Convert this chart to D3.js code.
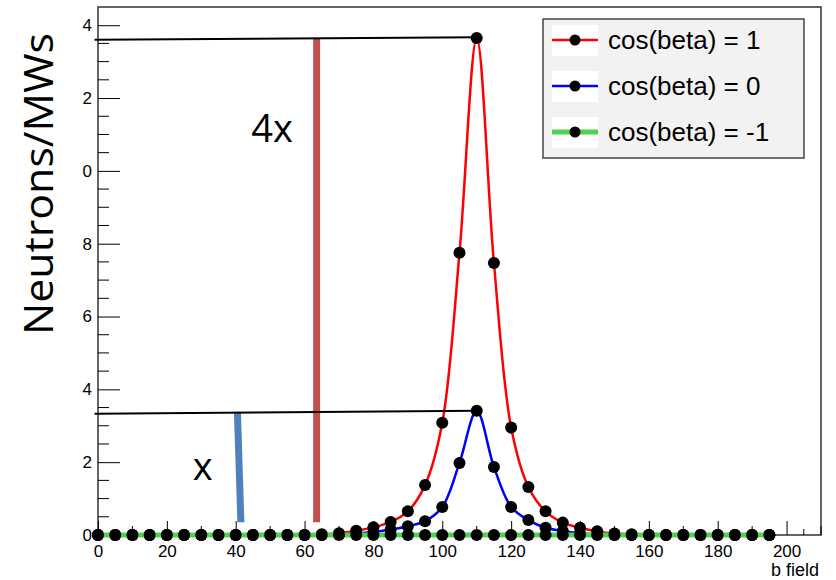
<!DOCTYPE html>
<html>
<head>
<meta charset="utf-8">
<script src="https://cdn.jsdelivr.net/npm/d3@7"></script>
<style>
  body { margin: 0; background: #fff; }
  svg { display: block; }
</style>
</head>
<body>
<div id="chart"></div>
<script>
// data
const bField = d3.range(0, 200, 5)  // 0,5,...,195
const redVals = [0,0,0,0,0,0,0,0,0,0,0,0,0,0.02,0.05,0.12,0.21,0.36,0.65,1.37,3.08,7.75,13.65,7.47,2.95,1.32,0.65,0.34,0.2,0.1,0.04,0.02,0,0,0,0,0,0,0,0]
const blueVals = [0,0,0,0,0,0,0,0,0,0,0,0,0,0,0.02,0.04,0.08,0.15,0.24,0.38,0.77,1.98,3.41,1.87,0.77,0.41,0.2,0.11,0.05,0.02,0,0,0,0,0,0,0,0,0,0]
const greenVals = bField.map(() => 0)

const seriesNames = ['cos(beta) = 1', 'cos(beta) = 0', 'cos(beta) = -1']
const seriesColors = ['#ff0000', '#0000ff', '#4fd34f']

const xTicks = [0, 20, 40, 60, 80, 100, 120, 140, 160, 180, 200]
const yTicks = [0, 2, 4, 6, 8, 10, 12, 14]
const yTickLabels = ['0', '2', '4', '6', '8', '0', '2', '4'] // 左邊被裁掉的樣子

// 標註 (data units)
const refLines = [
  { x1: -1, y1: 13.6, x2: 110, y2: 13.67 },
  { x1: -1, y1: 3.33, x2: 110, y2: 3.41 }
]
const bars = [
  { x1: 40.5, x2: 41.5, y1: 3.38, y2: 0.35, color: '#4f81bd' },
  { x1: 63.5, x2: 63.5, y1: 13.62, y2: 0.35, color: '#c0504d' }
]
const notes = [
  { text: '4x', x: 44.5, y: 10.8 },
  { text: 'x', x: 27.5, y: 1.5 }
]

const width = 836, height = 580
const svg = d3.select('#chart').append('svg')
  .attr('width', width).attr('height', height)

const xScale = d3.scaleLinear().domain([0, 210]).range([98, 821])
const yScale = d3.scaleLinear().domain([0, 14.5]).range([535, 7])

// 外框
svg.append('rect')
  .attr('x', xScale(0)).attr('y', yScale(14.5))
  .attr('width', xScale(210) - xScale(0))
  .attr('height', yScale(0) - yScale(14.5))
  .attr('fill', 'none').attr('stroke', '#333').attr('stroke-width', 1.5)

// X 軸 (ticks 往上)
const xAxis = d3.axisBottom(xScale).tickValues(xTicks).tickSize(-14).tickPadding(4).tickFormat(d => d)
const xAxisGroup = svg.append('g')
  .attr('transform', `translate(0,${yScale(0)})`)
  .call(xAxis)
xAxisGroup.select('.domain').remove()
xAxisGroup.selectAll('line').attr('stroke', '#000')
xAxisGroup.selectAll('text')
  .attr('dy', '1.05em')
  .style('font-family', 'Liberation Sans, Arial').style('font-size', '17px').attr('fill', '#000')
// minor x ticks
svg.append('g').selectAll('line')
  .data(d3.range(0, 211, 5).filter(d => d % 20 !== 0))
  .join('line')
  .attr('x1', d => xScale(d)).attr('x2', d => xScale(d))
  .attr('y1', yScale(0)).attr('y2', d => yScale(0) - (d % 10 === 0 ? 9 : 6))
  .attr('stroke', '#000')

// Y 軸 (ticks 往右)
const yAxis = d3.axisLeft(yScale).tickValues(yTicks).tickSize(-22).tickPadding(6)
  .tickFormat((d, i) => yTickLabels[i])
const yAxisGroup = svg.append('g')
  .attr('transform', `translate(${xScale(0)},0)`)
  .call(yAxis)
yAxisGroup.select('.domain').remove()
yAxisGroup.selectAll('line').attr('stroke', '#000')
yAxisGroup.selectAll('text')
  .attr('x', -6)
  .style('font-family', 'Liberation Sans, Arial').style('font-size', '17px').attr('fill', '#000')
svg.append('g').selectAll('line')
  .data(d3.range(0, 14.5, 0.5).filter(d => d % 2 !== 0))
  .join('line')
  .attr('x1', xScale(0)).attr('x2', xScale(0) + 11)
  .attr('y1', d => yScale(d)).attr('y2', d => yScale(d))
  .attr('stroke', '#000')

// 軸標題
svg.append('text')
  .attr('transform', `translate(53,${(33 + 335) / 2}) rotate(-90)`)
  .attr('text-anchor', 'middle')
  .attr('textLength', 302).attr('lengthAdjust', 'spacingAndGlyphs')
  .style('font-family', 'Open Sans, sans-serif').style('font-size', '40px')
  .text('Neutrons/MWs')
svg.append('text')
  .attr('x', 819).attr('y', 576).attr('text-anchor', 'end')
  .style('font-family', 'Liberation Sans, Arial').style('font-size', '18px')
  .text('b  field')

// 折線圖
const allSeries = [redVals, blueVals, greenVals]
const line = d3.line()
  .x((d, i) => xScale(bField[i]))
  .y(d => yScale(d))
  .curve(d3.curveCatmullRom.alpha(0.5))

allSeries.forEach((vals, k) => {
  svg.append('path')
    .datum(vals)
    .attr('fill', 'none')
    .attr('stroke', seriesColors[k])
    .attr('stroke-width', k === 2 ? 5 : 2.5)
    .attr('d', line)
  svg.append('g').selectAll('circle')
    .data(vals)
    .join('circle')
    .attr('cx', (d, i) => xScale(bField[i]))
    .attr('cy', d => yScale(d))
    .attr('r', 6)
    .attr('fill', '#000')
})

// 圖例
const legend = svg.append('g')
legend.append('rect')
  .attr('x', 543).attr('y', 19).attr('width', 261).attr('height', 139)
  .attr('fill', '#f2f2f2').attr('stroke', '#444').attr('stroke-width', 1.5)
const rows = legend.selectAll('.row')
  .data(seriesNames)
  .join('g')
  .attr('transform', (d, i) => `translate(0,${40 + i * 46})`)
rows.append('rect')
  .attr('x', 552).attr('y', -15).attr('width', 46).attr('height', 31).attr('fill', '#fff')
rows.append('line')
  .attr('x1', 552).attr('x2', 598)
  .attr('stroke', (d, i) => seriesColors[i])
  .attr('stroke-width', (d, i) => i === 2 ? 5 : 2.5)
rows.append('circle')
  .attr('cx', 575).attr('r', 5.5).attr('fill', '#000')
rows.append('text')
  .attr('x', 608).attr('dy', '0.36em')
  .style('font-family', 'Liberation Sans, Arial').style('font-size', '26px')
  .text(d => d)

// 標註 bars & lines
svg.append('g').selectAll('line')
  .data(bars)
  .join('line')
  .attr('x1', d => xScale(d.x1)).attr('y1', d => yScale(d.y1))
  .attr('x2', d => xScale(d.x2)).attr('y2', d => yScale(d.y2))
  .attr('stroke', d => d.color).attr('stroke-width', 7)
svg.append('g').selectAll('line')
  .data(refLines)
  .join('line')
  .attr('x1', d => xScale(d.x1)).attr('y1', d => yScale(d.y1))
  .attr('x2', d => xScale(d.x2)).attr('y2', d => yScale(d.y2))
  .attr('stroke', '#000').attr('stroke-width', 2)
svg.append('g').selectAll('text')
  .data(notes)
  .join('text')
  .attr('x', d => xScale(d.x)).attr('y', d => yScale(d.y))
  .style('font-family', 'Open Sans, sans-serif').style('font-size', '38px')
  .text(d => d.text)
</script>
</body>
</html>
